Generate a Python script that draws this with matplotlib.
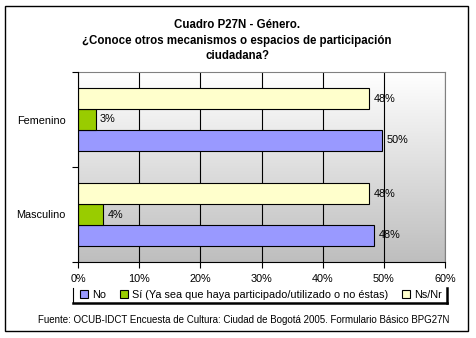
import matplotlib
matplotlib.use("Agg")
import matplotlib.pyplot as plt
import numpy as np
from matplotlib.patches import Rectangle, Patch
from matplotlib.lines import Line2D

plt.rcParams['font.family'] = ['Liberation Sans', 'DejaVu Sans']

categories = ["Masculino", "Femenino"]
series_names = ["No", "Sí (Ya sea que haya participado/utilizado o no éstas)", "Ns/Nr"]
no_vals = [48.4, 49.7]
si_vals = [4.1, 2.9]
nsnr_vals = [47.6, 47.6]
colors = ["#9999FF", "#99CC00", "#FFFFCC"]
xticks = [0, 10, 20, 30, 40, 50, 60]

title = "Cuadro P27N - Género.\n¿Conoce otros mecanismos o espacios de participación\nciudadana?"
source = "Fuente: OCUB-IDCT Encuesta de Cultura: Ciudad de Bogotá 2005. Formulario Básico BPG27N"

W, H = 476, 338
fig = plt.figure(figsize=(W/100, H/100), dpi=100)
ax = fig.add_axes([78/W, 1-262/H, (445-78)/W, (262-72)/H])

# gradient background (gray bottom -> white top)
grad = np.linspace(0, 1, 256).reshape(-1, 1)
cmap = matplotlib.colors.LinearSegmentedColormap.from_list('g', ['#bebebe', '#ffffff'])
ax.imshow(grad, extent=[0, 60, -0.5, 1.5], aspect='auto', cmap=cmap, origin='lower', zorder=0)

y = np.arange(len(categories))
h = 0.221
offsets = [-h, 0, h]
vals = [no_vals, si_vals, nsnr_vals]
for v, off, c in zip(vals, offsets, colors):
    ax.barh(y + off, v, height=h, color=c, edgecolor='black', linewidth=0.8, zorder=3)
    for yy, vv in zip(y + off, v):
        ax.text(vv + 0.7, yy, f"{vv:.0f}%", va='center', ha='left', fontsize=7.8, zorder=4)

ax.set_xlim(0, 60)
ax.set_ylim(-0.5, 1.5)
ax.set_xticks(xticks)
ax.set_xticklabels([f"{t}%" for t in xticks], fontsize=7.8)
ax.set_yticks([-0.5, 0.5, 1.5])
ax.set_yticklabels([])
ax.set_yticks(y, minor=True)
ax.set_yticklabels(categories, minor=True, fontsize=7.8)
ax.tick_params(axis='y', which='minor', length=0, pad=9)
ax.tick_params(axis='y', which='major', length=4, direction='out', width=0.8)
ax.tick_params(axis='x', length=4, direction='out', width=0.8, pad=5)
ax.grid(axis='x', color='black', linewidth=0.8, zorder=1)
ax.set_axisbelow(True)
for s in ['top', 'right']:
    ax.spines[s].set_color('#808080')
for s in ['left', 'bottom']:
    ax.spines[s].set_color('black')
    ax.spines[s].set_zorder(5)

fig.text(237/W, 1-19/H, title, ha='center', va='top', fontsize=8.3, fontweight='bold', linespacing=1.4)
fig.text(244/W, 1-320/H, source, ha='center', va='center', fontsize=7)

handles = [Patch(facecolor=c, edgecolor='black', linewidth=0.8) for c in colors]
fig.legend(handles, series_names, loc='center', bbox_to_anchor=(261/W, 1-295/H), ncol=3,
           frameon=False, fontsize=7.8, handlelength=0.7, handleheight=0.7,
           handletextpad=0.4, columnspacing=1.3, borderpad=0)

# legend frame lines
fig.add_artist(Line2D([73/W, 73/W], [1-288/H, 1-303/H], color='black', lw=0.8, transform=fig.transFigure))
fig.add_artist(Line2D([447/W, 447/W], [1-288/H, 1-303/H], color='black', lw=1.8, transform=fig.transFigure))
fig.add_artist(Line2D([73/W, 447/W], [1-303/H, 1-303/H], color='black', lw=1.8, transform=fig.transFigure))

# outer frame
fig.add_artist(Rectangle((5/W, 1-331/H), (468-5)/W, (331-6)/H, fill=False, edgecolor='black', lw=1, transform=fig.transFigure))

fig.savefig("out.png", dpi=100)
